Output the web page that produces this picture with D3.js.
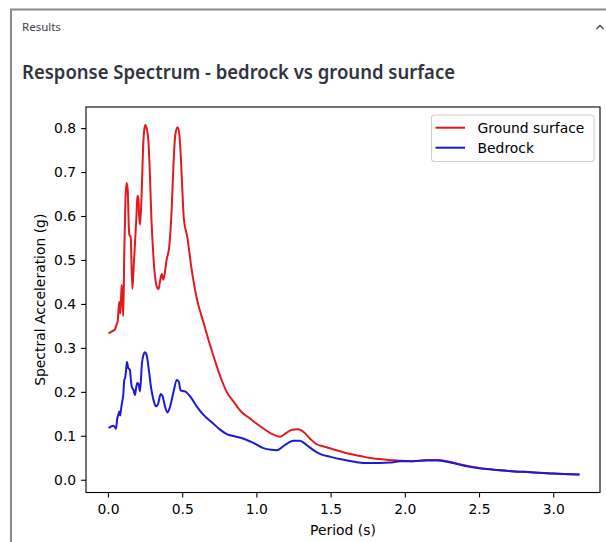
<!DOCTYPE html>
<html>
<head>
<meta charset="utf-8">
<script src="https://cdn.jsdelivr.net/npm/d3@7"></script>
<style>
  html, body { margin: 0; padding: 0; background: #fff; }
  svg { display: block; }
</style>
</head>
<body>
<svg id="chart" width="606" height="542"></svg>
<script>
// Response spectra: period (s) vs spectral acceleration (g)
const groundPeriod = [0.01, 0.03, 0.047, 0.058, 0.066, 0.070, 0.076, 0.083, 0.088, 0.092, 0.097, 0.100, 0.103,
  0.110, 0.118, 0.126, 0.133, 0.140, 0.144, 0.153, 0.164, 0.174, 0.182, 0.192, 0.198, 0.205, 0.210, 0.216,
  0.227, 0.238, 0.246, 0.252, 0.260, 0.272, 0.283, 0.292, 0.301, 0.312, 0.323, 0.333, 0.341, 0.350, 0.362,
  0.373, 0.385, 0.395, 0.413, 0.429, 0.438, 0.445, 0.454, 0.469, 0.481, 0.490, 0.497, 0.512, 0.534, 0.564,
  0.60, 0.64, 0.68, 0.72, 0.76, 0.80, 0.85, 0.90, 0.95, 1.00, 1.05, 1.10, 1.16, 1.20, 1.24, 1.28, 1.32,
  1.36, 1.40, 1.46, 1.52, 1.58, 1.64, 1.70, 1.76, 1.83, 1.90, 1.97, 2.05, 2.15, 2.22, 2.30, 2.40, 2.50,
  2.60, 2.70, 2.85, 3.00, 3.17];
const groundSa = [0.334, 0.338, 0.342, 0.353, 0.362, 0.380, 0.405, 0.378, 0.410, 0.443, 0.425, 0.400, 0.372,
  0.520, 0.640, 0.675, 0.660, 0.580, 0.557, 0.553, 0.434, 0.490, 0.538, 0.600, 0.646, 0.640, 0.600, 0.580,
  0.652, 0.766, 0.800, 0.807, 0.800, 0.773, 0.690, 0.600, 0.538, 0.480, 0.448, 0.436, 0.434, 0.450, 0.468,
  0.455, 0.475, 0.500, 0.531, 0.614, 0.690, 0.743, 0.785, 0.802, 0.785, 0.740, 0.690, 0.591, 0.553, 0.478,
  0.410, 0.362, 0.315, 0.272, 0.232, 0.200, 0.176, 0.154, 0.141, 0.128, 0.116, 0.105, 0.098, 0.106, 0.114,
  0.115, 0.108, 0.094, 0.082, 0.075, 0.069, 0.063, 0.058, 0.054, 0.050, 0.047, 0.045, 0.043, 0.042, 0.045,
  0.045, 0.041, 0.033, 0.027, 0.023, 0.020, 0.017, 0.014, 0.012];

const bedrockPeriod = [0.01, 0.036, 0.050, 0.054, 0.063, 0.070, 0.076, 0.082, 0.088, 0.094, 0.100, 0.103, 0.110,
  0.116, 0.122, 0.128, 0.137, 0.148, 0.155, 0.160, 0.171, 0.182, 0.190, 0.198, 0.206, 0.216, 0.229, 0.240,
  0.249, 0.260, 0.278, 0.290, 0.301, 0.312, 0.323, 0.339, 0.355, 0.368, 0.384, 0.400, 0.410, 0.422, 0.445,
  0.463, 0.476, 0.490, 0.519, 0.553, 0.598, 0.642, 0.699, 0.755, 0.80, 0.85, 0.90, 0.98, 1.047, 1.10,
  1.137, 1.18, 1.22, 1.25, 1.294, 1.32, 1.35, 1.40, 1.44, 1.50, 1.563, 1.62, 1.676, 1.75, 1.83, 1.90,
  1.968, 2.05, 2.15, 2.22, 2.30, 2.40, 2.50, 2.60, 2.70, 2.85, 3.00, 3.17];
const bedrockSa = [0.119, 0.123, 0.118, 0.116, 0.140, 0.148, 0.155, 0.146, 0.160, 0.174, 0.185, 0.193, 0.227,
  0.232, 0.250, 0.268, 0.254, 0.250, 0.225, 0.212, 0.205, 0.193, 0.210, 0.220, 0.218, 0.201, 0.265, 0.285,
  0.290, 0.284, 0.243, 0.210, 0.190, 0.175, 0.167, 0.174, 0.195, 0.190, 0.167, 0.153, 0.158, 0.171, 0.205,
  0.227, 0.224, 0.203, 0.201, 0.190, 0.167, 0.148, 0.131, 0.114, 0.104, 0.099, 0.095, 0.084, 0.072, 0.068,
  0.067, 0.076, 0.085, 0.089, 0.089, 0.084, 0.076, 0.064, 0.057, 0.052, 0.047, 0.043, 0.040, 0.038, 0.038,
  0.039, 0.042, 0.042, 0.044, 0.044, 0.040, 0.032, 0.026, 0.023, 0.020, 0.017, 0.014, 0.012];

const xTicks = [0.0, 0.5, 1.0, 1.5, 2.0, 2.5, 3.0];
const yTicks = [0.0, 0.1, 0.2, 0.3, 0.4, 0.5, 0.6, 0.7, 0.8];
const seriesNames = ["Ground surface", "Bedrock"];
const seriesColors = ["#e3191c", "#1a1ad9"];

const svg = d3.select("#chart");
const uiFont = "'Source Sans Pro', 'Noto Sans', 'Open Sans', sans-serif";
const mplFont = "'DejaVu Sans', sans-serif";

// Panel frame and headings
svg.append("rect")
  .attr("x", 11).attr("y", 9.5)
  .attr("width", 620).attr("height", 560)
  .attr("fill", "none").attr("stroke", "#8a8a8a").attr("stroke-width", 2);

svg.append("text")
  .attr("x", 22).attr("y", 31)
  .attr("font-family", uiFont).attr("font-size", 11.5)
  .attr("fill", "#3d3f4a")
  .text("Results");

svg.append("path")
  .attr("d", "M596.5,29 L600,25.5 L603.5,29")
  .attr("fill", "none").attr("stroke", "#444").attr("stroke-width", 1.4);

svg.append("text")
  .attr("x", 22).attr("y", 79)
  .attr("font-family", uiFont).attr("font-size", 20).attr("font-weight", 600)
  .attr("fill", "#31333f")
  .attr("textLength", 433).attr("lengthAdjust", "spacingAndGlyphs")
  .text("Response Spectrum - bedrock vs ground surface");

// Plot area
const plotLeft = 86, plotRight = 600, plotTop = 107, plotBottom = 492.5;
const x = d3.scaleLinear().domain([-0.148, 3.315]).range([plotLeft, plotRight]);
const y = d3.scaleLinear().domain([-0.029, 0.848]).range([plotBottom, plotTop]);

const tickLen = 4.9, tickPad = 4.9;

const xAxis = svg.append("g")
  .attr("transform", `translate(0,${plotBottom})`)
  .call(d3.axisBottom(x).tickValues(xTicks).tickFormat(d3.format(".1f"))
    .tickSize(tickLen).tickPadding(tickPad + 1.5));
const yAxis = svg.append("g")
  .attr("transform", `translate(${plotLeft},0)`)
  .call(d3.axisLeft(y).tickValues(yTicks).tickFormat(d3.format(".1f"))
    .tickSize(tickLen).tickPadding(tickPad));

[xAxis, yAxis].forEach(g => {
  g.select(".domain").remove();
  g.selectAll(".tick line").attr("stroke", "#000").attr("stroke-width", 1.1);
  g.selectAll(".tick text")
    .attr("font-family", mplFont).attr("font-size", 13.9).attr("fill", "#000");
});

// Series lines
const line = d3.line()
  .x(d => x(d[0]))
  .y(d => y(d[1]))
  .curve(d3.curveMonotoneX);

const series = [
  d3.zip(groundPeriod, groundSa),
  d3.zip(bedrockPeriod, bedrockSa)
];

series.forEach((pts, i) => {
  svg.append("path")
    .datum(pts)
    .attr("d", line)
    .attr("fill", "none")
    .attr("stroke", seriesColors[i])
    .attr("stroke-width", 2)
    .attr("stroke-linejoin", "round")
    .attr("stroke-linecap", "square");
});

// Spines
svg.append("rect")
  .attr("x", plotLeft).attr("y", plotTop)
  .attr("width", plotRight - plotLeft).attr("height", plotBottom - plotTop)
  .attr("fill", "none").attr("stroke", "#000").attr("stroke-width", 1.1);

// Axis titles
svg.append("text")
  .attr("x", (plotLeft + plotRight) / 2).attr("y", 534.5)
  .attr("text-anchor", "middle")
  .attr("font-family", mplFont).attr("font-size", 13.9).attr("fill", "#000")
  .text("Period (s)");

svg.append("text")
  .attr("transform", `translate(45,${(plotTop + plotBottom) / 2}) rotate(-90)`)
  .attr("text-anchor", "middle")
  .attr("font-family", mplFont).attr("font-size", 13.9).attr("fill", "#000")
  .text("Spectral Acceleration (g)");

// Legend
const legend = svg.append("g");
legend.append("rect")
  .attr("x", 431.5).attr("y", 115)
  .attr("width", 162.5).attr("height", 46.5)
  .attr("rx", 3).attr("ry", 3)
  .attr("fill", "#fff").attr("fill-opacity", 0.8)
  .attr("stroke", "#d0d0d0").attr("stroke-width", 1.1);

seriesNames.forEach((name, i) => {
  const ly = 127.7 + i * 20;
  legend.append("line")
    .attr("x1", 435.5).attr("x2", 465)
    .attr("y1", ly).attr("y2", ly)
    .attr("stroke", seriesColors[i]).attr("stroke-width", 2);
  legend.append("text")
    .attr("x", 477.5).attr("y", ly + 5)
    .attr("font-family", mplFont).attr("font-size", 13.9).attr("fill", "#000")
    .text(name);
});
</script>
</body>
</html>
